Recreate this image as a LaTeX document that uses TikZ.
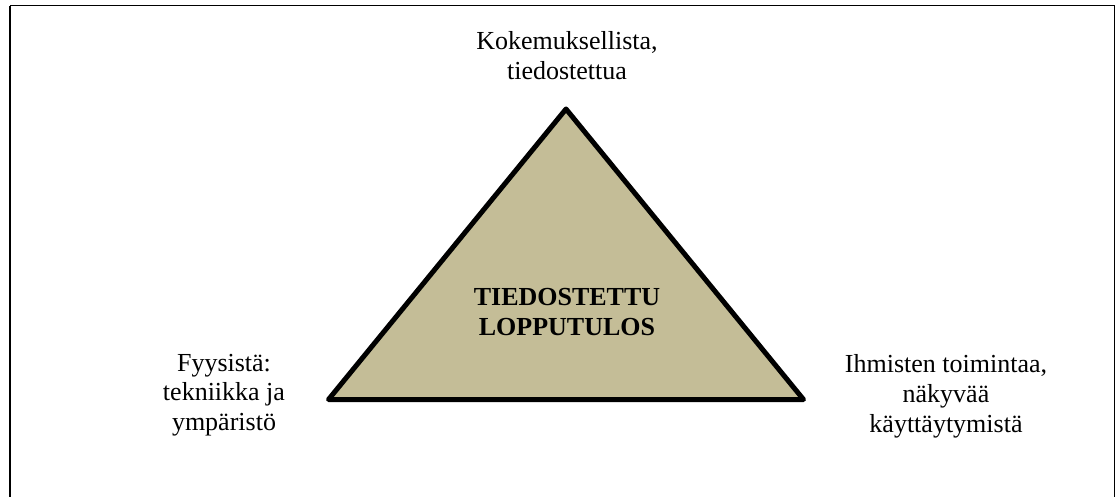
\documentclass[tikz,border=0pt]{standalone}
\usepackage{fontspec}
\setmainfont{Liberation Serif}
\definecolor{tan}{HTML}{C4BD97}
\tikzset{
  lbl/.style={align=center, anchor=base, inner sep=0pt, font=\fontsize{26}{29.5}\selectfont},
  frame/.style={draw=black, line width=1.6pt},
  tri/.style={draw=black, fill=tan, line width=5pt, line join=round}
}
\begin{document}
\begin{tikzpicture}[x=1pt,y=-1pt]
\useasboundingbox (0,0) rectangle (1115,497);
\draw[frame] (10.2,5.7) -- (1114.3,5.7) -- (1114.3,510) (10.2,5.7) -- (10.2,510);
\coordinate (L) at (328.5,399.5);
\coordinate (A) at (566,109);
\coordinate (R) at (803.5,399.5);
\draw[tri] (L) -- (A) -- (R) -- cycle;
\node[lbl, font=\fontsize{26}{30}\selectfont] (top) at (567,80) {Kokemuksellista,\\tiedostettua};
\node[lbl, font=\fontsize{26}{30}\selectfont\bfseries] (mid) at (567,335) {TIEDOSTETTU\\LOPPUTULOS};
\node[lbl] (left) at (224,430) {Fyysistä:\\tekniikka ja\\ympäristö};
\node[lbl, font=\fontsize{26}{30}\selectfont] (right) at (946,432) {Ihmisten toimintaa,\\näkyvää\\käyttäytymistä};
\end{tikzpicture}
\end{document}
